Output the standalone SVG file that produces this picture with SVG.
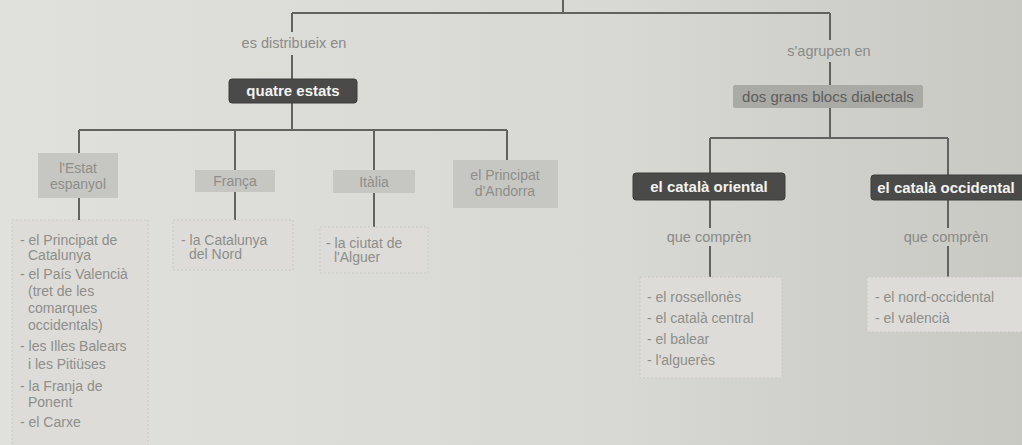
<svg xmlns="http://www.w3.org/2000/svg" width="1022" height="445" viewBox="0 0 1022 445">
<defs>
<linearGradient id="bg" x1="0" y1="0" x2="1" y2="0">
<stop offset="0" stop-color="#e0e0dd"/>
<stop offset="0.6" stop-color="#d8d8d4"/>
<stop offset="1" stop-color="#c8c9c3"/>
</linearGradient>
</defs>
<style>
.ln{stroke:#626260;stroke-width:2;fill:none}
.lbl{font-family:"Liberation Sans",Arial,sans-serif;font-size:14.5px;fill:#8a8a86;text-anchor:middle}
.dark rect{fill:#4a4a48;stroke:#3c3c3a;stroke-width:1}
.dark text{font-family:"Liberation Sans",Arial,sans-serif;font-size:15px;font-weight:bold;fill:#f2f2f0;text-anchor:middle}
.light rect{fill:#c6c6c2}
.light text{font-family:"Liberation Sans",Arial,sans-serif;font-size:14px;fill:#8e8e8a;text-anchor:middle}
.mid rect{fill:#a9a9a5}
.mid text{font-family:"Liberation Sans",Arial,sans-serif;font-size:15px;fill:#5e5e5a;text-anchor:middle}
.list rect{fill:#dddcd8;stroke:#c8c8c4;stroke-width:1;stroke-dasharray:2 2}
.list text{font-family:"Liberation Sans",Arial,sans-serif;font-size:14px;fill:#8e8e8a}
</style>
<rect width="1022" height="445" fill="url(#bg)"/>
<g id="connectors">
<path class="ln" d="M563 0V13M292 13H830M292 13V32M292 55V79M292 103V130M79 130H507M79 130V153M235 130V170M374 130V170M507 130V160M79 198V220M235 192V220M374 193V227"/>
<path class="ln" d="M830 13V40M830 62V85M830 108V138M710 138H948M710 138V173M948 138V175M710 200V228M710 246V277M948 200V228M948 246V277"/>
</g>
<text class="lbl" x="294" y="48">es distribueix en</text>
<text class="lbl" x="829" y="56">s'agrupen en</text>
<text class="lbl" x="709" y="242">que comprèn</text>
<text class="lbl" x="946" y="242">que comprèn</text>
<g id="quatre-estats" class="dark"><rect x="229" y="79" width="128" height="24" rx="3"/><text x="293" y="96">quatre estats</text></g>
<g id="dos-blocs" class="mid"><rect x="733" y="85" width="190" height="23" rx="2"/><text x="828" y="102">dos grans blocs dialectals</text></g>
<g id="estat-espanyol" class="light"><rect x="38" y="153" width="80" height="45"/><text x="78" y="173">l'Estat</text><text x="78" y="189">espanyol</text></g>
<g id="franca" class="light"><rect x="195" y="170" width="80" height="22"/><text x="235" y="186">França</text></g>
<g id="italia" class="light"><rect x="333" y="170" width="82" height="23"/><text x="374" y="187">Itàlia</text></g>
<g id="andorra" class="light"><rect x="453" y="160" width="105" height="48"/><text x="505" y="180">el Principat</text><text x="505" y="196">d'Andorra</text></g>
<g id="oriental" class="dark"><rect x="633" y="173" width="152" height="27" rx="3"/><text x="709" y="192">el català oriental</text></g>
<g id="occidental" class="dark"><rect x="871" y="175" width="160" height="25" rx="3"/><text x="946" y="193">el català occidental</text></g>
<g id="list-espanyol" class="list"><rect x="12" y="220" width="136" height="230"/>
<text x="20" y="245">- el Principat de</text><text x="28" y="260">Catalunya</text>
<text x="20" y="279">- el País Valencià</text><text x="28" y="296">(tret de les</text><text x="28" y="313">comarques</text><text x="28" y="330">occidentals)</text>
<text x="20" y="351">- les Illes Balears</text><text x="28" y="369">i les Pitiüses</text>
<text x="20" y="391">- la Franja de</text><text x="28" y="407">Ponent</text>
<text x="20" y="427">- el Carxe</text></g>
<g id="list-franca" class="list"><rect x="173" y="220" width="120" height="50"/><text x="181" y="245">- la Catalunya</text><text x="189" y="259">del Nord</text></g>
<g id="list-italia" class="list"><rect x="320" y="227" width="108" height="46"/><text x="326" y="248">- la ciutat de</text><text x="334" y="262">l'Alguer</text></g>
<g id="list-oriental" class="list"><rect x="640" y="277" width="142" height="101"/><text x="647" y="302">- el rossellonès</text><text x="647" y="323">- el català central</text><text x="647" y="344">- el balear</text><text x="647" y="365">- l'alguerès</text></g>
<g id="list-occidental" class="list"><rect x="867" y="277" width="160" height="55"/><text x="875" y="302">- el nord-occidental</text><text x="875" y="323">- el valencià</text></g>
</svg>
